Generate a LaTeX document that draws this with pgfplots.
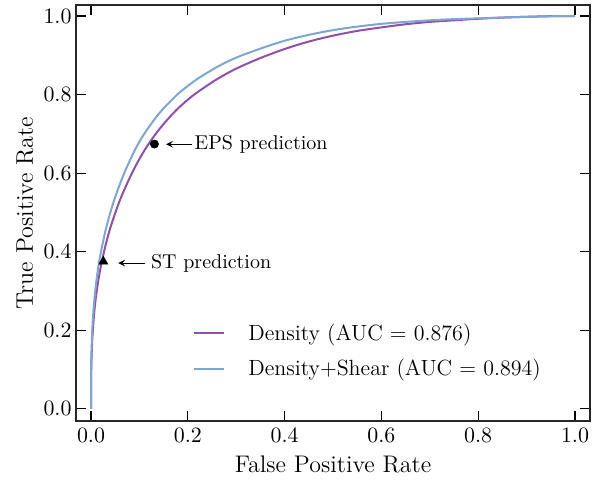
\documentclass[border=0pt]{standalone}
\usepackage{pgfplots}
\pgfplotsset{compat=1.18}
\usetikzlibrary{calc}
\definecolor{cpurple}{RGB}{142,80,170}
\definecolor{cblue}{RGB}{125,166,211}
\begin{document}
\begin{tikzpicture}
\begin{axis}[
  scale only axis, clip=false,
  width=257pt, height=208pt,
  xmin=-0.031, xmax=1.031, ymin=-0.031, ymax=1.028,
  xtick={0,0.2,0.4,0.6,0.8,1.0}, ytick={0,0.2,0.4,0.6,0.8,1.0},
  ticklabel style={font=\fontsize{10.5}{12}\selectfont,
    /pgf/number format/fixed, /pgf/number format/fixed zerofill,
    /pgf/number format/precision=1},
  yticklabel style={xshift=1.3pt},
  tick align=inside, major tick length=5pt, minor tick num=0,
  tick style={black, line width=0.6pt},
  xtick pos=both, ytick pos=both,
  ticklabel pos=left,
  axis line style={black!85, line width=0.7pt},
  xlabel={False Positive Rate}, ylabel={True Positive Rate},
  label style={font=\large},
  xlabel style={at={($(rel axis cs:0.5,0)+(0,-21.5pt)$)}, anchor=center},
  ylabel style={at={($(rel axis cs:0,0.5)+(-25.5pt,0)$)}, anchor=center},
  legend style={draw=none, fill=none, at={(0.2276,0.168)}, anchor=west,
    inner sep=0pt, nodes={inner sep=1pt},
    row sep=6pt, font=\fontsize{11}{13}\selectfont, legend cell align=left},
  legend image code/.code={\draw[#1] (0pt,0pt) -- (15pt,0pt); \path (25.5pt,0pt);},
]
\addplot[cpurple, line width=1pt, smooth] coordinates {
(0,0) (0.0002,0.071) (0.001,0.126) (0.003,0.185) (0.006,0.236) (0.01,0.283)
(0.015,0.326) (0.02,0.361) (0.03,0.416) (0.04,0.461) (0.05,0.498) (0.06,0.532)
(0.07,0.561) (0.08,0.588) (0.09,0.613) (0.10,0.636) (0.11,0.657) (0.12,0.676)
(0.135,0.702) (0.15,0.725) (0.165,0.746) (0.18,0.765) (0.20,0.787) (0.22,0.806)
(0.26,0.839) (0.30,0.866) (0.35,0.893) (0.40,0.916) (0.45,0.935) (0.50,0.950)
(0.55,0.962) (0.60,0.971) (0.65,0.979) (0.70,0.985) (0.75,0.989) (0.80,0.993)
(0.85,0.996) (0.90,0.998) (0.95,0.9995) (1.0,1.0)};
\addlegendentry{Density (AUC = 0.876)}
\addplot[cblue, line width=1pt, smooth] coordinates {
(0,0) (0.0002,0.084) (0.001,0.145) (0.003,0.210) (0.006,0.264) (0.01,0.314)
(0.015,0.360) (0.02,0.396) (0.03,0.454) (0.04,0.500) (0.05,0.539) (0.06,0.573)
(0.07,0.604) (0.08,0.631) (0.09,0.657) (0.10,0.680) (0.11,0.700) (0.12,0.718)
(0.135,0.743) (0.15,0.765) (0.165,0.784) (0.18,0.802) (0.20,0.822) (0.22,0.840)
(0.26,0.870) (0.30,0.894) (0.35,0.917) (0.40,0.937) (0.45,0.952) (0.50,0.964)
(0.55,0.973) (0.60,0.980) (0.65,0.985) (0.70,0.989) (0.75,0.992) (0.80,0.994)
(0.85,0.996) (0.90,0.998) (0.95,0.9993) (1.0,1.0)};
\addlegendentry{Density+Shear (AUC = 0.894)}
\addplot[only marks, mark=*, mark size=2pt, black, forget plot] coordinates {(0.131,0.674)};
\addplot[only marks, mark=triangle*, mark size=2.5pt, black, forget plot] coordinates {(0.0255,0.375)};
\draw[->, >=stealth, line width=0.5pt] (axis cs:0.208,0.6735) -- (axis cs:0.155,0.6735);
\node[anchor=west, inner sep=0pt] at (axis cs:0.2134,0.6735) {EPS prediction};
\draw[->, >=stealth, line width=0.5pt] (axis cs:0.1116,0.371) -- (axis cs:0.0564,0.371);
\node[anchor=west, inner sep=0pt] at (axis cs:0.1233,0.371) {ST prediction};
\path (rel axis cs:0,0) ++(-38pt,-29pt);
\path (rel axis cs:1,1) ++(5pt,2.5pt);
\end{axis}
\end{tikzpicture}
\end{document}
